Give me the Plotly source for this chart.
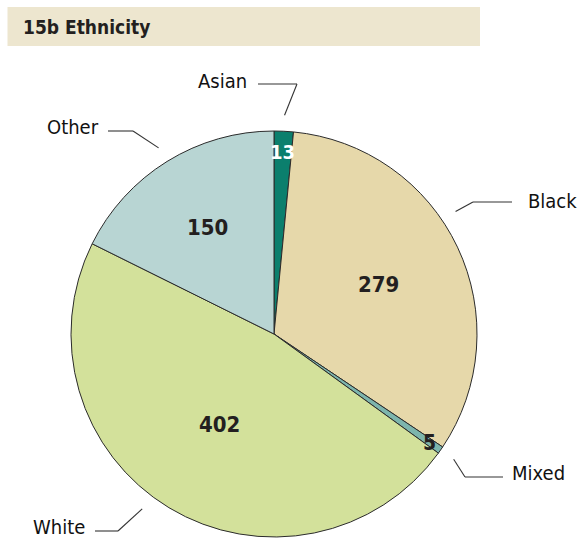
import math
import plotly.graph_objects as go

# Ethnicity breakdown (counts)
groups = ["Asian", "Black", "Mixed", "White", "Other"]
counts = [13, 279, 5, 402, 150]
slice_colors = ["#0b7f6d", "#e6d8aa", "#7db5ad", "#d3e19b", "#b8d5d3"]
title_text = "15b Ethnicity"

W, H = 582, 538
CX, CY, R = 274, 334, 203          # pie centre / radius in pixels

COND = "DejaVu Sans Condensed, DejaVu Sans, sans-serif"


def px(x):
    return x / W


def py(y):
    return 1 - y / H


def polar(angle_deg, r):
    a = math.radians(angle_deg)
    return CX + r * math.sin(a), CY - r * math.cos(a)


# slice mid-angles (clockwise from 12 o'clock)
total = sum(counts)
mids = {}
acc = 0.0
for g, v in zip(groups, counts):
    span = v / total * 360
    mids[g] = acc + span / 2
    acc += span

fig = go.Figure(go.Pie(
    labels=groups,
    values=counts,
    sort=False,
    direction="clockwise",
    rotation=0,
    textinfo="none",
    hoverinfo="label+value",
    marker=dict(colors=slice_colors, line=dict(color="#2b2b2b", width=1)),
    domain=dict(x=[px(CX - R), px(CX + R)], y=[py(CY + R), py(CY - R)]),
    showlegend=False,
))

# value labels inside the slices: radial position as a fraction of the radius
value_r = {"Asian": 0.90, "Black": 0.57, "Mixed": 0.935, "White": 0.52, "Other": 0.62}
value_size = {"Asian": 20, "Mixed": 21}
value_col = {"Asian": "#ffffff"}
annotations = []
for g, v in zip(groups, counts):
    x, y = polar(mids[g], value_r[g] * R)
    annotations.append(dict(
        x=px(x), y=py(y), xref="paper", yref="paper", text=f"<b>{v}</b>",
        showarrow=False, xanchor="center", yanchor="middle",
        font=dict(family=COND, size=value_size.get(g, 22), color=value_col.get(g, "#231f20")),
    ))

# outside names with elbow leaders: anchor angle on the rim, elbow point, label end
leader_angle = {"Asian": None, "Black": 56, "Mixed": None, "White": 217, "Other": None}
leaders = {
    "Asian": dict(elbow=(297, 84), end=(258, 84), text=(249, 81), side="right"),
    "Black": dict(elbow=(473, 202), end=(512, 202), text=(526, 201), side="left"),
    "Mixed": dict(elbow=(465, 477), end=(503, 477), text=(510, 473), side="left"),
    "White": dict(elbow=(118, 531), end=(95, 531), text=(87, 527), side="right"),
    "Other": dict(elbow=(133, 131), end=(108, 131), text=(101, 127), side="right"),
}
shapes = []
for g in groups:
    spec = leaders[g]
    ang = leader_angle[g] if leader_angle[g] is not None else mids[g]
    sx, sy = polar(ang, R + 16)
    ex, ey = spec["elbow"]
    tx, ty = spec["end"]
    for (x0, y0, x1, y1) in [(sx, sy, ex, ey), (ex, ey, tx, ty)]:
        shapes.append(dict(type="line", xref="paper", yref="paper",
                           x0=px(x0), y0=py(y0), x1=px(x1), y1=py(y1),
                           line=dict(color="#333333", width=1.1)))
    lx, ly = spec["text"]
    annotations.append(dict(
        x=px(lx), y=py(ly), xref="paper", yref="paper", text=g,
        showarrow=False, xanchor=spec["side"], yanchor="middle",
        font=dict(family=COND, size=20, color="#111111"),
    ))

# header band
shapes.append(dict(type="rect", xref="paper", yref="paper", layer="below",
                   x0=px(7.5), x1=px(480), y0=py(46), y1=py(7),
                   fillcolor="#ede6cf", line=dict(width=0)))
annotations.append(dict(
    x=px(21), y=py(27), xref="paper", yref="paper", text=f"<b>{title_text}</b>",
    showarrow=False, xanchor="left", yanchor="middle",
    font=dict(family=COND, size=19, color="#231f20"),
))

fig.update_layout(
    width=W, height=H,
    margin=dict(l=0, r=0, t=0, b=0),
    paper_bgcolor="#ffffff", plot_bgcolor="#ffffff",
    shapes=shapes, annotations=annotations,
)

fig.write_html("out.html")
